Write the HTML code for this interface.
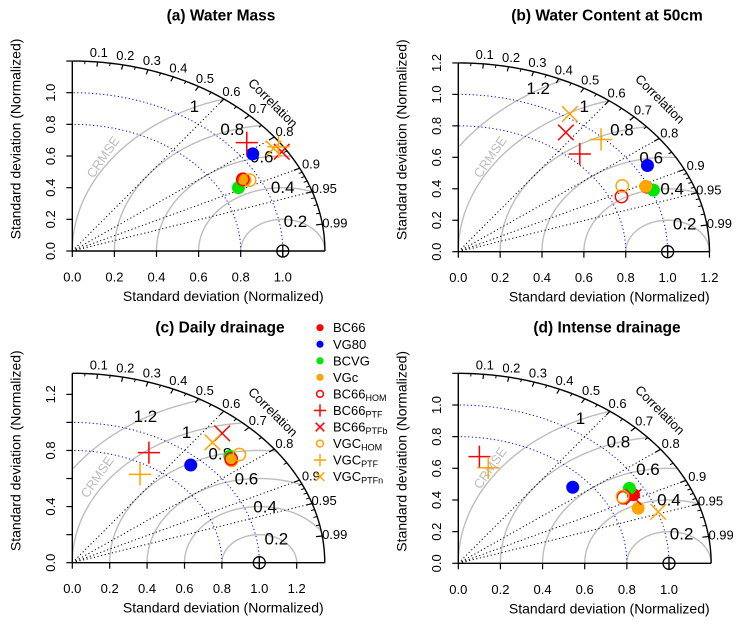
<!DOCTYPE html>
<html><head><meta charset="utf-8"><style>
html,body{margin:0;padding:0;background:#fff;}
svg{display:block;font-family:"Liberation Sans",sans-serif;}
</style></head><body>
<svg id="fig" width="749" height="629" viewBox="0 0 749 629" xmlns="http://www.w3.org/2000/svg"></svg>
<script>
// Series (same order in every panel)
const seriesNames = ["BC66","VG80","BCVG","VGc","BC66HOM","BC66PTF","BC66PTFb","VGCHOM","VGCPTF","VGCPTFn"];
// Panel (a) Water Mass
const sdA  = [0.931,1.054,0.885,0.935,0.928,1.075,1.176,0.954,1.180,1.155];
const corA = [0.875,0.813,0.892,0.878,0.873,0.771,0.846,0.883,0.830,0.828];
// Panel (b) Water Content at 50cm
const sdB  = [0.989,1.057,1.011,0.987,0.855,0.850,0.916,0.888,0.987,1.025];
const corB = [0.910,0.855,0.922,0.907,0.912,0.683,0.561,0.882,0.691,0.520];
// Panel (c) Daily drainage
const sdC  = [1.120,0.941,1.134,1.120,1.127,0.885,1.222,1.180,0.726,1.139];
const corC = [0.759,0.673,0.743,0.761,0.754,0.463,0.656,0.757,0.499,0.658];
// Panel (d) Intense drainage
const sdD  = [0.937,0.725,0.940,0.922,0.886,0.681,0.931,0.886,0.620,1.003];
const corD = [0.887,0.749,0.864,0.926,0.884,0.147,0.893,0.880,0.229,0.946];
// Tick labels
const corTicks = [0.1,0.2,0.3,0.4,0.5,0.6,0.7,0.8,0.9,0.95,0.99];
const corMinor = [0.05,0.15,0.25,0.35,0.45,0.55,0.65,0.75,0.85,0.91,0.92,0.93,0.94,0.96,0.97,0.98];
const corLines = [0.6,0.8,0.9,0.95];
const sdRefArcs = [0.8,1.0];
const xTicksA = ["0.0","0.2","0.4","0.6","0.8","1.0"];
const xTicksB = ["0.0","0.2","0.4","0.6","0.8","1.0","1.2"];
const yTicksA = ["0.0","0.2","0.4","0.6","0.8","1.0"];
const yTicksB = ["0.0","0.2","0.4","0.6","0.8","1.0","1.2"];
const yTicksC = ["0.0","0.4","0.8","1.2"];
const gammaA = [0.2,0.4,0.6,0.8,1.0];
const gammaB = [0.2,0.4,0.6,0.8,1.0,1.2];

const styles = [
 {t:'dot',c:'#ff0000'},{t:'dot',c:'#0000ff'},{t:'dot',c:'#00e600'},{t:'dot',c:'#ffa500'},
 {t:'ring',c:'#ff0000'},{t:'plus',c:'#ff0000'},{t:'cross',c:'#ff0000'},
 {t:'ring',c:'#ffa500'},{t:'plus',c:'#ffa500'},{t:'cross',c:'#ffa500'}];

const panels = [
 {id:'a',title:'(a) Water Mass',tx:221,ty:16,ox:72.3,oy:251,sx:210.5,sy:158.3,rmax:1.2,sd:sdA,cor:corA,xt:xTicksA,yt:yTicksA,gam:gammaA,gl:1.09,crm:[103,157],corl:[273,103]},
 {id:'b',title:'(b) Water Content at 50cm',tx:607,ty:16,ox:458.3,oy:251.7,sx:209.3,sy:157.3,rmax:1.2,sd:sdB,cor:corB,xt:xTicksB,yt:yTicksB,gam:gammaB,gl:1.11,crm:[490,157],corl:[660,99]},
 {id:'c',title:'(c) Daily drainage',tx:220,ty:328,ox:72.3,oy:562.7,sx:187,sy:140.3,rmax:1.35,sd:sdC,cor:corC,xt:xTicksB,yt:yTicksC,gam:gammaB,gl:1.12,crm:[97,477],corl:[273,412]},
 {id:'d',title:'(d) Intense drainage',tx:607,ty:328,ox:458.3,oy:563.3,sx:210.7,sy:158.3,rmax:1.2,sd:sdD,cor:corD,xt:xTicksA,yt:yTicksA,gam:gammaA,gl:1.09,crm:[490,468],corl:[660,410]}
];

const NS='http://www.w3.org/2000/svg';
const svg=document.getElementById('fig');
function mk(tag,attrs,parent){const e=document.createElementNS(NS,tag);for(const k in attrs)e.setAttribute(k,attrs[k]);(parent||svg).appendChild(e);return e;}
function txt(s,x,y,attrs,parent){const e=mk('text',Object.assign({x:x,y:y,'text-anchor':'middle','dominant-baseline':'central'},attrs||{}),parent);e.textContent=s;return e;}

function drawMarker(g,st,X,Y,size){
  let e;
  if(st.t==='dot'){e=mk('circle',{cx:X,cy:Y,r:size,fill:st.c},g);}
  else if(st.t==='ring'){e=mk('circle',{cx:X,cy:Y,r:size*0.95,fill:'none',stroke:st.c,'stroke-width':1.5},g);}
  else if(st.t==='plus'){const s=size*1.7;e=mk('path',{d:`M${X-s},${Y}H${X+s}M${X},${Y-s}V${Y+s}`,stroke:st.c,'stroke-width':1.5,fill:'none'},g);}
  else {const s=size*1.2;e=mk('path',{d:`M${X-s},${Y-s}L${X+s},${Y+s}M${X-s},${Y+s}L${X+s},${Y-s}`,stroke:st.c,'stroke-width':1.5,fill:'none'},g);}
  return e;
}

panels.forEach(p=>{
  const g=mk('g',{});
  
  
  const X=x=>p.ox+x*p.sx, Y=y=>p.oy-y*p.sy;
  const polar=(r,c)=>[X(r*c),Y(r*Math.sqrt(Math.max(0,1-c*c)))];
  const t=txt(p.title,p.tx,p.ty,{'font-size':15.5,'font-weight':'bold'},g);
  
  
  p.gam.forEach(gm=>{
    let d='';let pen=false;
    for(let i=0;i<=360;i++){const th=Math.PI*i/360;const x=1+gm*Math.cos(th),y=gm*Math.sin(th);
      if(x>=-1e-9 && Math.hypot(x,y)<=p.rmax+1e-9){d+=(pen?'L':'M')+X(x).toFixed(2)+','+Y(y).toFixed(2);pen=true;}else pen=false;}
    const a=mk('path',{d:d,fill:'none',stroke:'#bdbdbd','stroke-width':1.4},g);
    
    
    const L=p.gl;const lx=(L*L-gm*gm+1)/2;const ly=Math.sqrt(Math.max(0,L*L-lx*lx));
    const lb=txt(gm===1?'1':String(gm),X(lx)-3,Y(ly),{'font-size':17,fill:'#000'},g);
    
    
  });
  sdRefArcs.forEach(r=>{
    let d='';for(let i=0;i<=90;i++){const th=Math.PI/2*i/90;d+=(i?'L':'M')+X(r*Math.cos(th)).toFixed(2)+','+Y(r*Math.sin(th)).toFixed(2);}
    const a=mk('path',{d:d,fill:'none',stroke:'#0000ff','stroke-width':1,'stroke-dasharray':'1.2,2.5'},g);
    
    
  });
  corLines.forEach(c=>{const [x2,y2]=polar(p.rmax,c);
    const l=mk('line',{x1:X(0),y1:Y(0),x2:x2,y2:y2,stroke:'#000','stroke-width':1,'stroke-dasharray':'1.2,2.5'},g);
    
    });
  let d='';for(let i=0;i<=120;i++){const th=Math.PI/2*i/120;d+=(i?'L':'M')+X(p.rmax*Math.cos(th)).toFixed(2)+','+Y(p.rmax*Math.sin(th)).toFixed(2);}
  const oa=mk('path',{d:d,fill:'none',stroke:'#000','stroke-width':1.4},g);
  
  
  corTicks.forEach(c=>{const [a1,b1]=polar(p.rmax,c),[a2,b2]=polar(p.rmax*0.975,c);
    mk('line',{x1:a1,y1:b1,x2:a2,y2:b2,stroke:'#000','stroke-width':1.2},g);
    const [lx,ly]=polar(p.rmax*1.05,c);
    const lb=txt(String(c),lx,ly,{'font-size':13},g);
    
    });
  corMinor.forEach(c=>{const [a1,b1]=polar(p.rmax,c),[a2,b2]=polar(p.rmax*0.985,c);
    mk('line',{x1:a1,y1:b1,x2:a2,y2:b2,stroke:'#000','stroke-width':1},g);});
  const ax=mk('line',{x1:X(0),y1:Y(0),x2:X(p.rmax),y2:Y(0),stroke:'#000','stroke-width':1.4},g);
  
  
  const ay=mk('line',{x1:X(0),y1:Y(0),x2:X(0),y2:Y(p.rmax),stroke:'#000','stroke-width':1.4},g);
  
  
  p.xt.forEach(s=>{const v=parseFloat(s);mk('line',{x1:X(v),y1:Y(0),x2:X(v),y2:Y(0)+6,stroke:'#000','stroke-width':1.2},g);
    const lb=txt(s,X(v),Y(0)+26,{'font-size':13},g);
    
    });
  for(let v=0;v<=p.rmax+1e-9;v+=0.2){mk('line',{x1:X(0),y1:Y(v),x2:X(0)-6,y2:Y(v),stroke:'#000','stroke-width':1.2},g);}
  p.yt.forEach(s=>{const v=parseFloat(s);
    const lb=txt(s,X(0)-22,Y(v),{'font-size':13,transform:`rotate(-90 ${X(0)-22} ${Y(v)})`},g);
    
    });
  const xt=txt('Standard deviation (Normalized)',p.ox+151,p.oy+45,{'font-size':14},g);
  
  
  const yx=p.ox-57,yy=p.oy-112;
  const yt=txt('Standard deviation (Normalized)',yx,yy,{'font-size':14,transform:`rotate(-90 ${yx} ${yy})`},g);
  
  
  const cr=txt('CRMSE',p.crm[0],p.crm[1],{'font-size':13,fill:'#bdbdbd',transform:`rotate(-55 ${p.crm[0]} ${p.crm[1]})`},g);
  
  
  const co=txt('Correlation',p.corl[0],p.corl[1],{'font-size':13,transform:`rotate(45 ${p.corl[0]} ${p.corl[1]})`},g);
  
  
  const rp=mk('g',{},g);
  
  
  mk('circle',{cx:X(1),cy:Y(0),r:6,fill:'none',stroke:'#000','stroke-width':1.3},rp);
  mk('path',{d:`M${X(1)-6},${Y(0)}H${X(1)+6}M${X(1)},${Y(0)-6}V${Y(0)+6}`,stroke:'#000','stroke-width':1.3},rp);
  p.sd.forEach((s,i)=>{const c=p.cor[i];const [px,py]=polar(s,c);
    const m=drawMarker(g,styles[i],px,py,6.5);
    
    });
});

const leg=mk('g',{});


const legMain=["BC66","VG80","BCVG","VGc","BC66","BC66","BC66","VGC","VGC","VGC"];
const legSub=["","","","","HOM","PTF","PTFb","HOM","PTF","PTFn"];
legMain.forEach((s,i)=>{
  const y=327.7+i*16.55;
  const item=mk('g',{},leg);
  
  
  drawMarker(item,styles[i],320,y,3.6);
  const t=mk('text',{x:333,y:y,'dominant-baseline':'central','font-size':13},item);
  t.textContent=s;
  if(legSub[i]){const ts=mk('tspan',{'font-size':9,dy:4},t);ts.textContent=legSub[i];}
});
</script>
</body></html>
